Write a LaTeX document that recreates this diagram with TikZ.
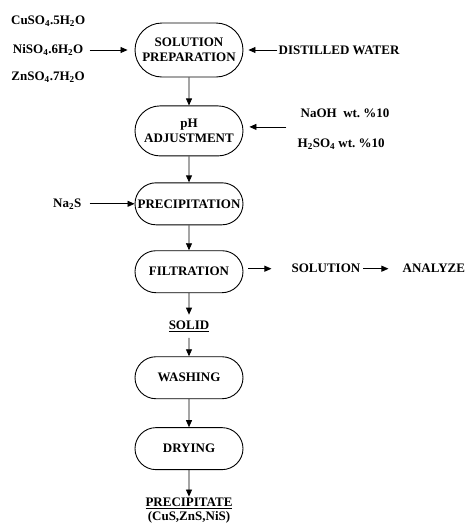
\documentclass[tikz,border=0pt]{standalone}
\usepackage{fontspec}
\setmainfont{Liberation Serif}
\usetikzlibrary{arrows.meta, positioning, shapes.misc}

\begin{document}
\begin{tikzpicture}[
  x=1pt, y=1pt,
  node distance=26pt,
  font=\fontsize{13}{15}\selectfont\bfseries,
  stage/.style={rounded rectangle, draw, line width=0.9pt,
                minimum width=112pt, minimum height=42pt,
                align=center, inner sep=2pt},
  txt/.style={inner sep=1pt, align=center},
  arr/.style={-{Triangle[length=7pt, width=6pt]}, line width=0.8pt}
]
  \useasboundingbox (0,0) rectangle (466,-523);

  % main column
  \node[stage, minimum height=54pt] (sol) at (189,-50)
    {SOLUTION\\PREPARATION};
  \node[stage, minimum height=50pt, below=28pt of sol] (ph)
    {pH\\ADJUSTMENT};
  \node[stage, below=26pt of ph] (prec) {PRECIPITATION};
  \node[stage, below=25pt of prec] (filt) {FILTRATION};
  \node[txt, inner ysep=6pt, below=21.5pt of filt] (solid) {\underline{SOLID}};
  \node[stage, below=18.5pt of solid] (wash) {WASHING};
  \node[stage, below=28pt of wash] (dry) {DRYING};
  \node[txt, below=26.5pt of dry, font=\fontsize{13}{14}\selectfont\bfseries] (ppt)
    {\underline{PRECIPITATE}\\(CuS,ZnS,NiS)};

  % reagents
  \node[txt, left=50pt of sol] (ni) {NiSO\textsubscript{4}.6H\textsubscript{2}O};
  \node[txt, above=16pt of ni] (cu) {CuSO\textsubscript{4}.5H\textsubscript{2}O};
  \node[txt, below=14pt of ni] (zn) {ZnSO\textsubscript{4}.7H\textsubscript{2}O};
  \node[txt, right=34pt of sol] (water) {DISTILLED WATER};
  \coordinate[right=43pt of ph, yshift=4pt] (phin);
  \node[txt, right=13pt of phin, yshift=14pt] (naoh) {NaOH\ \ wt.~\%10};
  \node[txt, right=10pt of phin, yshift=-17pt] (acid)
    {H\textsubscript{2}SO\textsubscript{4} wt.~\%10};
  \node[txt, left=52pt of prec] (nas) {Na\textsubscript{2}S};
  \node[txt, right=47pt of filt, yshift=3pt] (sln) {SOLUTION};
  \node[txt, right=40pt of sln] (ana) {ANALYZE};

  % connectors
  \draw[arr] (sol) -- (ph);
  \draw[arr] (ph) -- (prec);
  \draw[arr] (prec) -- (filt);
  \draw[arr] (filt) -- (solid);
  \draw[arr] (solid) -- (wash);
  \draw[arr] (wash) -- (dry);
  \draw[arr] (dry) -- (ppt);
  \draw[arr, shorten <=5pt, shorten >=7pt] (ni.east) -- (sol.west);
  \draw[arr, shorten >=5pt] (water.west) -- (sol.east);
  \draw[arr, shorten >=6pt] (phin) -- (phin -| ph.east);
  \draw[arr, shorten <=7pt] (nas.east) -- (prec.west);
  \draw[arr, shorten <=5pt, shorten >=19pt] (filt.east |- sln) -- (sln.west);
  \draw[arr, shorten <=2pt, shorten >=13pt] (sln.east) -- (ana.west);

\end{tikzpicture}
\end{document}
